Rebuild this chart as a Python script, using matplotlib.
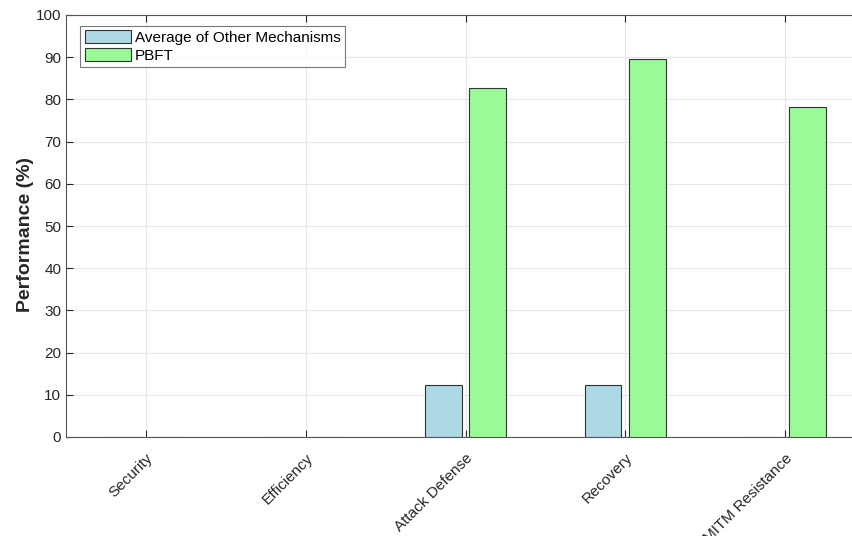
import matplotlib
matplotlib.use("Agg")
import matplotlib.pyplot as plt
import numpy as np

categories = ["Security", "Efficiency", "Attack Defense", "Recovery", "MITM Resistance"]
avg_other = [0, 0, 12.3, 12.3, 0]
pbft = [0, 0, 82.7, 89.5, 78.1]
series_names = ["Average of Other Mechanisms", "PBFT"]
yticks = list(range(0, 101, 10))

plt.rcParams['font.family'] = ['Liberation Sans', 'DejaVu Sans']

fig = plt.figure(figsize=(8.52, 5.36), dpi=100)
W, H = 852, 536
left_px, right_px, top_px, bot_px = 66, 865, 15, 437
ax = fig.add_axes([left_px / W, (H - bot_px) / H, (right_px - left_px) / W, (bot_px - top_px) / H])

x = np.arange(1, len(categories) + 1)
off = 0.14
bw = 0.23
ax.bar(x - off, avg_other, bw, color="#ADD8E6", edgecolor="#333333", linewidth=0.8, label=series_names[0], zorder=3)
ax.bar(x + off, pbft, bw, color="#98FB98", edgecolor="#333333", linewidth=0.8, label=series_names[1], zorder=3)

ax.set_xlim(0.5, 5.5)
ax.set_ylim(0, 100)
ax.set_yticks(yticks)
ax.set_xticks(x)
ax.set_xticklabels(categories, rotation=45, ha="right", rotation_mode="anchor", fontsize=11, color="#262626")
ax.tick_params(axis="y", labelsize=11, labelcolor="#262626")
ax.tick_params(direction="in", length=5, width=0.8, color="#262626", top=True)
ax.tick_params(axis="x", pad=10)

ax.grid(True, color="#e6e6e6", linewidth=0.8, zorder=0)
ax.set_axisbelow(True)
for s in ["left", "bottom", "top"]:
    ax.spines[s].set_color("#555555")
    ax.spines[s].set_linewidth(0.8)
ax.spines["right"].set_visible(False)

ax.set_ylabel("Performance (%)", fontsize=14, fontweight="bold", color="#262626")
ax.yaxis.set_label_coords(-0.04, 0.48)

leg = ax.legend(loc="upper left", bbox_to_anchor=(0.018, 0.975), fontsize=11, frameon=True, fancybox=False,
                edgecolor="#555555", handlelength=3.0, handleheight=0.95, handletextpad=0.25,
                borderpad=0.3, labelspacing=0.2, borderaxespad=0)
leg.get_frame().set_linewidth(0.8)

fig.savefig("out.png", dpi=100)
